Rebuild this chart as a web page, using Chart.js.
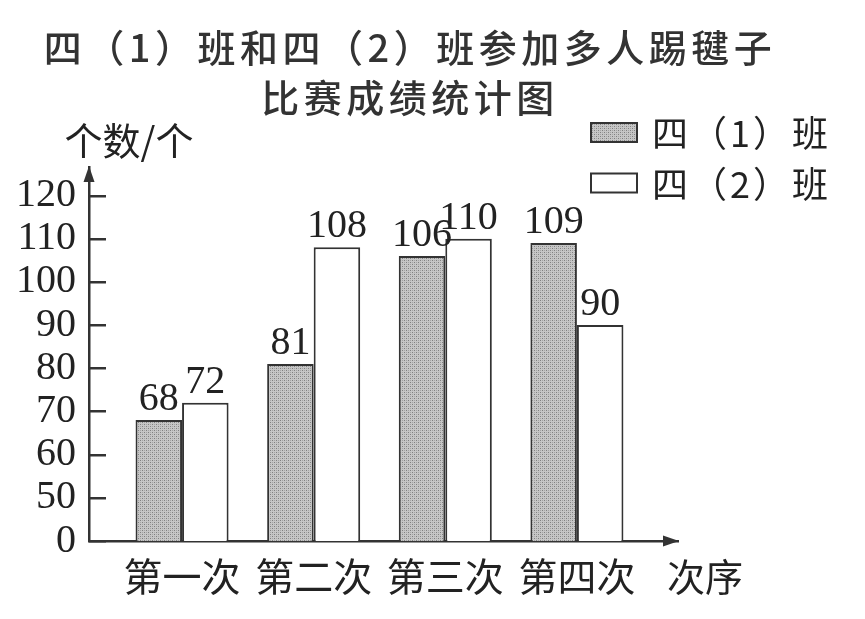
<!DOCTYPE html>
<html>
<head>
<meta charset="utf-8">
<script src="https://cdn.jsdelivr.net/npm/chart.js@4"></script>
<style>
  html, body { margin: 0; padding: 0; background: #ffffff; }
  canvas { display: block; }
</style>
</head>
<body>
<canvas id="c" width="865" height="619"></canvas>
<script>
// ---------- data ----------
const titleLines = ['四（1）班和四（2）班参加多人踢毽子', '比赛成绩统计图'];
const categories = ['第一次', '第二次', '第三次', '第四次'];
const seriesNames = ['四（1）班', '四（2）班'];
const class1 = [68, 81, 106, 109];
const class2 = [72, 108, 110, 90];
// the y axis is broken between 0 and 50: the "0" tick sits one step below 50
const yTickValues = [40, 50, 60, 70, 80, 90, 100, 110, 120];
const yTickLabels = ['0', '50', '60', '70', '80', '90', '100', '110', '120'];
const yUnit = '个数/个';
const xUnit = '次序';

// ---------- styles ----------
const CJK = '"Noto Sans CJK SC", "Noto Sans", sans-serif';
const SERIF = '"Liberation Serif", "DejaVu Serif", "Noto Sans CJK SC", serif';
const INK = '#222222';
const AXIS = '#333333';

const canvas = document.getElementById('c');
const ctx0 = canvas.getContext('2d');

function makeDotPattern() {
  const p = document.createElement('canvas');
  p.width = 4; p.height = 4;
  const g = p.getContext('2d');
  g.fillStyle = '#c6c6c6';
  g.fillRect(0, 0, 4, 4);
  g.fillStyle = '#808080';
  g.fillRect(0, 0, 1, 1);
  g.fillRect(2, 2, 1, 1);
  g.fillStyle = '#a4a4a4';
  g.fillRect(2, 0, 1, 1);
  g.fillRect(0, 2, 1, 1);
  return ctx0.createPattern(p, 'repeat');
}
const grayFill = makeDotPattern();

// ---------- plugins ----------
const titleSpacing = {
  id: 'titleSpacing',
  beforeDraw(chart) { chart.ctx.letterSpacing = '4.5px'; },
  beforeDatasetsDraw(chart) { chart.ctx.letterSpacing = '0px'; }
};

const valueLabels = {
  id: 'valueLabels',
  afterDatasetsDraw(chart) {
    const ctx = chart.ctx;
    ctx.save();
    ctx.letterSpacing = '0px';
    ctx.font = '40px ' + SERIF;
    ctx.fillStyle = INK;
    ctx.textAlign = 'center';
    ctx.textBaseline = 'alphabetic';
    chart.data.datasets.forEach((ds, di) => {
      const meta = chart.getDatasetMeta(di);
      meta.data.forEach((el, i) => {
        ctx.fillText(String(ds.data[i].y), el.x, el.y - 10);
      });
    });
    ctx.restore();
  }
};

const decorations = {
  id: 'decorations',
  afterDraw(chart) {
    const ctx = chart.ctx;
    const a = chart.chartArea;
    const yScale = chart.scales.y;
    ctx.save();
    ctx.letterSpacing = '0px';

    // inward tick marks on the y axis
    ctx.strokeStyle = AXIS;
    ctx.lineWidth = 2.5;
    yScale.ticks.forEach((t) => {
      const py = Math.round(yScale.getPixelForValue(t.value)) + 0.25;
      ctx.beginPath();
      ctx.moveTo(a.left, py);
      ctx.lineTo(a.left + 17, py);
      ctx.stroke();
    });

    // axis arrowheads
    ctx.fillStyle = AXIS;
    ctx.beginPath();
    ctx.moveTo(a.left, a.top - 1);
    ctx.lineTo(a.left - 5.5, a.top + 15);
    ctx.lineTo(a.left + 5.5, a.top + 15);
    ctx.closePath();
    ctx.fill();
    ctx.beginPath();
    ctx.moveTo(a.right + 1, a.bottom);
    ctx.lineTo(a.right - 15, a.bottom - 5.5);
    ctx.lineTo(a.right - 15, a.bottom + 5.5);
    ctx.closePath();
    ctx.fill();

    // axis unit labels
    ctx.fillStyle = INK;
    ctx.font = '38px ' + CJK;
    ctx.textBaseline = 'middle';
    ctx.textAlign = 'center';
    ctx.fillText(yUnit, a.left + 40, a.top - 26);
    ctx.fillText(xUnit, a.right + 27, a.bottom + 36);

    // legend
    const boxX = a.right - 88;
    const rowY0 = a.top - 34.5;
    const rowGap = 50.5;
    ctx.font = '36px ' + CJK;
    ctx.textAlign = 'left';
    chart.data.datasets.forEach((ds, i) => {
      const cy = rowY0 + i * rowGap;
      ctx.fillStyle = ds.backgroundColor;
      ctx.fillRect(boxX, cy - 10.5, 48, 21);
      ctx.lineWidth = 2;
      ctx.strokeStyle = AXIS;
      ctx.strokeRect(boxX + 1, cy - 9.5, 46, 19);
      ctx.fillStyle = INK;
      ctx.letterSpacing = '3px';
      ctx.fillText(ds.label, boxX + 62, cy + 1);
      ctx.letterSpacing = '0px';
    });
    ctx.restore();
  }
};

// ---------- chart ----------
const makeData = (vals) => categories.map((c, i) => ({ x: i, y: vals[i] }));

new Chart(canvas, {
  type: 'bar',
  data: {
    datasets: [
      {
        label: seriesNames[0],
        data: makeData(class1),
        backgroundColor: grayFill,
        borderColor: AXIS,
        borderWidth: 2,
        borderSkipped: false,
        barPercentage: 1,
        categoryPercentage: 0.707
      },
      {
        label: seriesNames[1],
        data: makeData(class2),
        backgroundColor: '#ffffff',
        borderColor: AXIS,
        borderWidth: 2,
        borderSkipped: false,
        barPercentage: 1,
        categoryPercentage: 0.707
      }
    ]
  },
  options: {
    responsive: false,
    animation: false,
    events: [],
    layout: { padding: { left: 0, right: 45, top: 0, bottom: 0 } },
    scales: {
      x: {
        type: 'linear',
        offset: false,
        min: -0.707,
        max: 3.768,
        afterBuildTicks: (s) => { s.ticks = categories.map((c, i) => ({ value: i })); },
        afterFit: (s) => { s.height = 78; },
        ticks: {
          callback: (v) => categories[v],
          font: { family: CJK, size: 39 },
          color: INK,
          padding: 12,
          z: 1,
          autoSkip: false,
          maxRotation: 0
        },
        grid: { display: false, drawTicks: false, offset: false },
        border: { display: true, color: AXIS, width: 2.5 }
      },
      y: {
        type: 'linear',
        position: 'left',
        min: 40,
        max: 126.6,
        afterBuildTicks: (s) => { s.ticks = yTickValues.map((v) => ({ value: v })); },
        afterFit: (s) => { s.width = 89; },
        ticks: {
          callback: (v, i) => yTickLabels[i],
          font: { family: SERIF, size: 40 },
          color: INK,
          padding: 13,
          z: 1,
          autoSkip: false
        },
        grid: { display: false, drawTicks: false },
        border: { display: true, color: AXIS, width: 2.5 }
      },
      y2: {
        type: 'linear',
        position: 'right',
        display: true,
        afterFit: (s) => { s.width = 142; },
        ticks: { display: false },
        grid: { display: false },
        border: { display: false }
      }
    },
    plugins: {
      legend: { display: false },
      tooltip: { enabled: false },
      title: {
        display: true,
        text: titleLines,
        color: '#333333',
        font: { family: CJK, size: 38, weight: '500', lineHeight: '50px' },
        padding: { top: 23, bottom: 44 }
      }
    }
  },
  plugins: [titleSpacing, valueLabels, decorations]
});
</script>
</body>
</html>
